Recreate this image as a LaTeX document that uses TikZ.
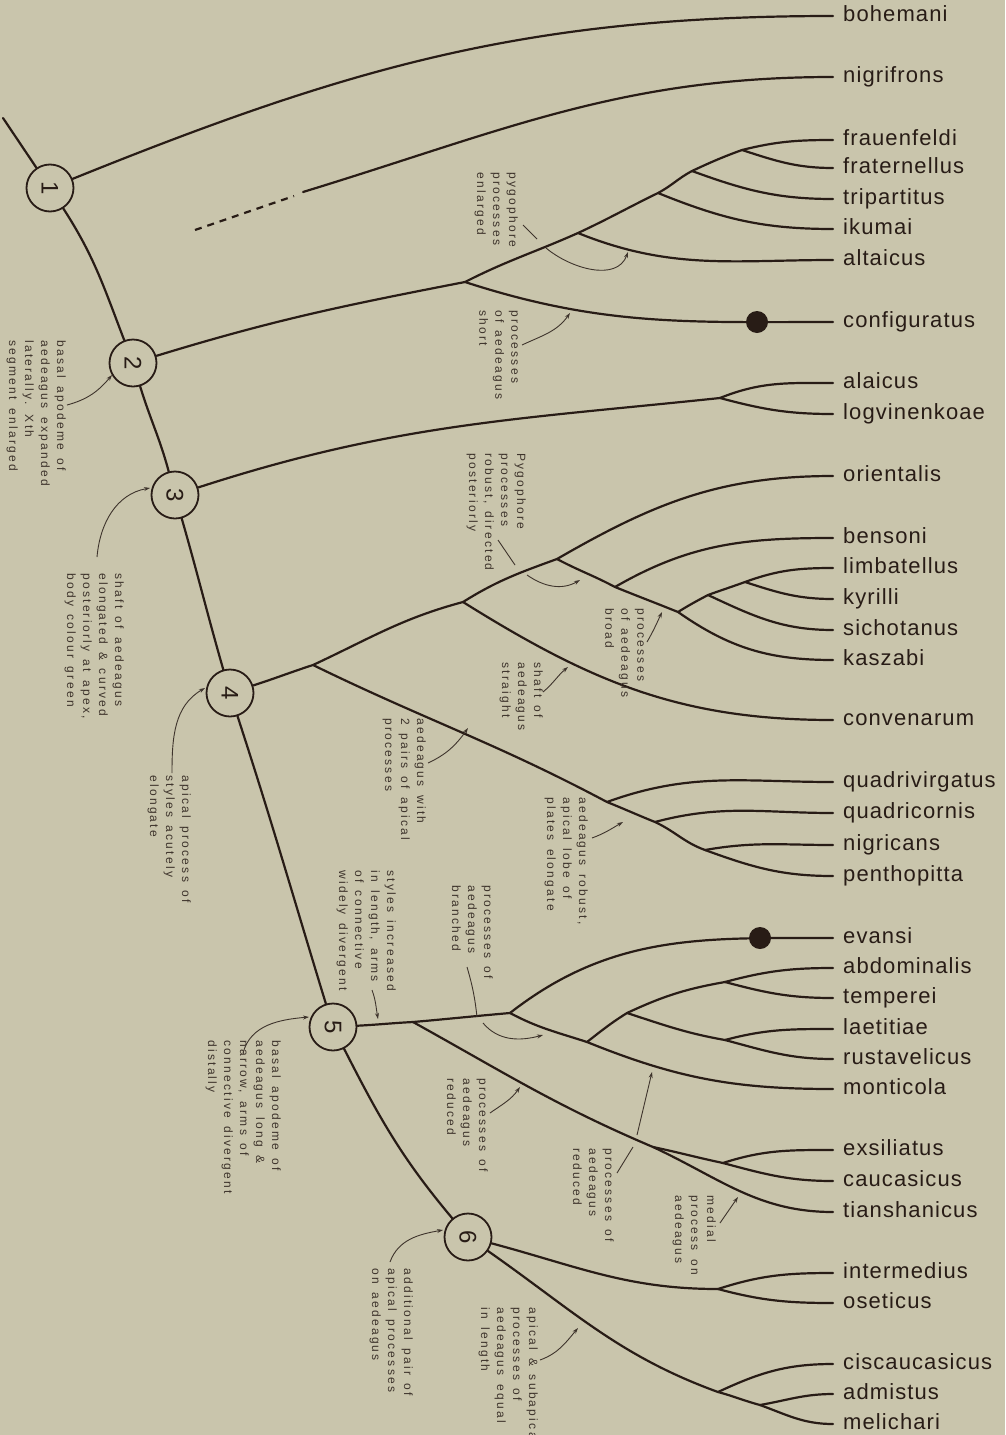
\documentclass[tikz,border=0pt]{standalone}
\usepackage{fontspec}
\usepackage{graphicx}
\setmainfont{Liberation Sans}
\newfontfamily\spfont[LetterSpace=5]{Liberation Sans}
\newfontfamily\anfont[LetterSpace=19,WordSpace=1.5]{Liberation Sans}
\usetikzlibrary{arrows.meta}
\definecolor{bg}{RGB}{201,197,172}
\definecolor{ink}{RGB}{40,28,22}
\definecolor{notec}{RGB}{62,52,44}
\newcommand\leafat[2]{\coordinate (#1) at (833,-#2); \node[splab] (t#1) at (843,-#2-5.5) {#1};}
\begin{document}
\begin{tikzpicture}[x=1pt,y=1pt,
  br/.style={ink, line width=2.2pt, line cap=round},
  cnode/.style={circle, draw=ink, line width=1.8pt, minimum size=47pt, inner sep=0pt, fill=bg, text=ink, font=\fontsize{24}{24}\selectfont},
  splab/.style={anchor=base west, inner sep=0pt, text=ink, font=\spfont\fontsize{22}{22}\selectfont},
  note/.style={rotate=-90, anchor=north west, align=left, inner sep=0pt, text=notec, font=\anfont\fontsize{12}{16}\selectfont},
  arr/.style={notec, line width=0.9pt, -{Stealth[length=6pt,width=4pt]}},
  tick/.style={notec, line width=0.9pt},
  dot/.style={circle, fill=ink, minimum size=22pt, inner sep=0pt},
]
\fill[bg] (0,0) rectangle (1005,-1435);
\useasboundingbox (0,0) rectangle (1005,-1435);

% leaves
\leafat{bohemani}{16}
\leafat{nigrifrons}{77}
\leafat{frauenfeldi}{140}
\leafat{fraternellus}{168}
\leafat{tripartitus}{199}
\leafat{ikumai}{229}
\leafat{altaicus}{260}
\leafat{configuratus}{322}
\leafat{alaicus}{383}
\leafat{logvinenkoae}{414}
\leafat{orientalis}{476}
\leafat{bensoni}{538}
\leafat{limbatellus}{568}
\leafat{kyrilli}{599}
\leafat{sichotanus}{630}
\leafat{kaszabi}{660}
\leafat{convenarum}{720}
\leafat{quadrivirgatus}{782}
\leafat{quadricornis}{813}
\leafat{nigricans}{845}
\leafat{penthopitta}{876}
\leafat{evansi}{938}
\leafat{abdominalis}{968}
\leafat{temperei}{998}
\leafat{laetitiae}{1029}
\leafat{rustavelicus}{1059}
\leafat{monticola}{1089}
\leafat{exsiliatus}{1150}
\leafat{caucasicus}{1181}
\leafat{tianshanicus}{1212}
\leafat{intermedius}{1273}
\leafat{oseticus}{1303}
\leafat{ciscaucasicus}{1364}
\leafat{admistus}{1394}
\leafat{melichari}{1424}

% internal points
\coordinate (root) at (3,-118);
\coordinate (A) at (465,-282);
\coordinate (B) at (578,-233);
\coordinate (C) at (658,-193);
\coordinate (D) at (692,-171);
\coordinate (E) at (742,-150);
\coordinate (F) at (720,-398);
\coordinate (G) at (313,-665);
\coordinate (H) at (463,-602);
\coordinate (I) at (557,-559);
\coordinate (J) at (615,-587);
\coordinate (K) at (678,-612);
\coordinate (L) at (708,-595);
\coordinate (M) at (745,-582);
\coordinate (N) at (607,-802);
\coordinate (P) at (655,-822);
\coordinate (Q) at (705,-850);
\coordinate (R) at (413,-1022);
\coordinate (S) at (510,-1013);
\coordinate (T) at (587,-1042);
\coordinate (U) at (627,-1013);
\coordinate (V) at (725,-982);
\coordinate (W) at (725,-1040);
\coordinate (X) at (653,-1147);
\coordinate (Y) at (723,-1163);
\coordinate (Z1) at (718,-1289);
\coordinate (Z2) at (718,-1392);
\coordinate (Z3) at (760,-1405);
\coordinate (nigstart) at (303,-192);
\coordinate (dashA) at (195,-230);
\coordinate (dashB) at (294,-196);

% circles
\node[cnode] (n1) at (50,-188) {\rotatebox{-90}{1}};
\node[cnode] (n2) at (133,-363) {\rotatebox{-90}{2}};
\node[cnode] (n3) at (175,-495) {\rotatebox{-90}{3}};
\node[cnode] (n4) at (230,-693) {\rotatebox{-90}{4}};
\node[cnode] (n5) at (333,-1027) {\rotatebox{-90}{5}};
\node[cnode] (n6) at (468,-1237) {\rotatebox{-90}{6}};

% backbone
\draw[br] (root) -- (n1);
\draw[br] (n1) to[out=-57,in=111] (n2);
\draw[br] (n2) to[out=-73,in=105] (n3);
\draw[br] (n3) to[out=-74,in=106] (n4);
\draw[br] (n4) to[out=-72,in=107] (n5);
\draw[br] (n5) to[out=-63,in=130] (n6);

% clade 1
\draw[br] (n1) to[out=22,in=180] (bohemani);
\draw[br] (nigstart) to[out=17,in=180] (nigrifrons);
\draw[br, line cap=butt, dash pattern=on 7pt off 6pt] (dashA) -- (dashB);

% clade 2
\draw[br] (n2) to[out=17,in=191] (A);
\draw[br] (A) to[out=27,in=204] (B) to[out=25,in=206] (C) to[out=28,in=208] (D) to[out=25,in=200] (E) to[out=14,in=180] (frauenfeldi);
\draw[br] (E) to[out=-18,in=180] (fraternellus);
\draw[br] (D) to[out=-20,in=180] (tripartitus);
\draw[br] (C) to[out=-22,in=180] (ikumai);
\draw[br] (B) to[out=-22,in=180] (altaicus);
\draw[br] (A) to[out=-18,in=180] (configuratus);
\node[dot] (dotc) at (757,-322) {};

% clade 3
\draw[br] (n3) to[out=18,in=186] (F);
\draw[br] (F) to[out=22,in=180] (alaicus);
\draw[br] (F) to[out=-15,in=180] (logvinenkoae);

% clade 4
\draw[br] (n4) to[out=18,in=198] (G);
\draw[br] (G) to[out=25,in=195] (H);
\draw[br] (H) to[out=32,in=200] (I);
\draw[br] (I) to[out=30,in=180] (orientalis);
\draw[br] (I) to[out=-28,in=152] (J);
\draw[br] (J) to[out=30,in=180] (bensoni);
\draw[br] (J) to[out=-22,in=158] (K);
\draw[br] (K) to[out=32,in=208] (L);
\draw[br] (K) to[out=-35,in=180] (kaszabi);
\draw[br] (L) to[out=20,in=200] (M);
\draw[br] (L) to[out=-25,in=180] (sichotanus);
\draw[br] (M) to[out=20,in=180] (limbatellus);
\draw[br] (M) to[out=-18,in=180] (kyrilli);
\draw[br] (H) to[out=-32,in=180] (convenarum);
\draw[br] (G) to[out=-26,in=152] (N);
\draw[br] (N) to[out=20,in=180] (quadrivirgatus);
\draw[br] (N) to[out=-22,in=158] (P);
\draw[br] (P) to[out=15,in=180] (quadricornis);
\draw[br] (P) to[out=-25,in=160] (Q);
\draw[br] (Q) to[out=10,in=180] (nigricans);
\draw[br] (Q) to[out=-20,in=180] (penthopitta);

% clade 5
\draw[br] (n5) to[out=3,in=183] (R);
\draw[br] (R) to[out=5,in=185] (S);
\draw[br] (S) to[out=38,in=180] (evansi);
\node[dot] (dote) at (760,-938) {};
\draw[br] (S) to[out=-28,in=162] (T);
\draw[br] (T) to[out=38,in=212] (U);
\draw[br] (T) to[out=-22,in=180] (monticola);
\draw[br] (U) to[out=25,in=190] (V);
\draw[br] (U) to[out=-18,in=170] (W);
\draw[br] (V) to[out=15,in=180] (abdominalis);
\draw[br] (V) to[out=-15,in=180] (temperei);
\draw[br] (W) to[out=15,in=180] (laetitiae);
\draw[br] (W) to[out=-15,in=180] (rustavelicus);
\draw[br] (R) to[out=-29,in=157] (X);
\draw[br] (X) to[out=-12,in=168] (Y);
\draw[br] (X) to[out=-25,in=180] (tianshanicus);
\draw[br] (Y) to[out=18,in=180] (exsiliatus);
\draw[br] (Y) to[out=-15,in=180] (caucasicus);

% clade 6
\draw[br] (n6) to[out=-15,in=180] (Z1);
\draw[br] (Z1) to[out=18,in=180] (intermedius);
\draw[br] (Z1) to[out=-15,in=180] (oseticus);
\draw[br] (n6) to[out=-35,in=160] (Z2);
\draw[br] (Z2) to[out=25,in=180] (ciscaucasicus);
\draw[br] (Z2) to[out=-15,in=165] (Z3);
\draw[br] (Z3) to[out=10,in=180] (admistus);
\draw[br] (Z3) to[out=-20,in=180] (melichari);

% annotations
\node[note] (a1) at (66,-340) {basal apodeme of\\aedeagus expanded\\laterally. Xth\\segment enlarged};
\node[note] (a2) at (124,-573) {shaft of aedeagus\\elongated \& curved\\posteriorly at apex,\\body colour green};
\node[note] (a3) at (191,-775) {apical process of\\styles acutely\\elongate};
\node[note] (a4) at (281,-1040) {basal apodeme of\\aedeagus long \&\\narrow, arms of\\connective divergent\\distally};
\node[note] (a5) at (396,-870) {styles increased\\in length, arms\\of connective\\widely divergent};
\node[note] (a6) at (413,-1268) {additional pair of\\apical processes\\on aedeagus};
\node[note] (a7) at (426,-718) {aedeagus with\\2 pairs of apical\\processes};
\node[note] (a8) at (543,-662) {shaft of\\aedeagus\\straight};
\node[note] (a9) at (644,-608) {processes\\of aedeagus\\broad};
\node[note] (a10) at (526,-453) {Pygophore\\processes\\robust, directed\\posteriorly};
\node[note] (a11) at (518,-172) {pygophore\\processes\\enlarged};
\node[note] (a12) at (518,-310) {processes\\of aedeagus\\short};
\node[note] (a13) at (588,-797) {aedeagus robust,\\apical lobe of\\plates elongate};
\node[note] (a14) at (493,-885) {processes of\\aedeagus\\branched};
\node[note] (a15) at (488,-1078) {processes of\\aedeagus\\reduced};
\node[note] (a16) at (614,-1148) {processes of\\aedeagus\\reduced};
\node[note] (a17) at (716,-1195) {medial\\process on\\aedeagus};
\node[note] (a18) at (538,-1307) {apical \& subapical\\processes of\\aedeagus equal\\in length};

% arrows
\coordinate (r1t) at (67,-405); \coordinate (r1h) at (112,-375);
\draw[arr] (r1t) to[out=15,in=230] (r1h);
\coordinate (r2t) at (97,-557); \coordinate (r2h) at (150,-488);
\draw[arr] (r2t) to[out=85,in=190] (r2h);
\coordinate (r3t) at (172,-773); \coordinate (r3h) at (205,-688);
\draw[arr] (r3t) to[out=90,in=210] (r3h);
\coordinate (r4t) at (243,-1053); \coordinate (r4h) at (309,-1017);
\draw[arr] (r4t) to[out=75,in=185] (r4h);
\coordinate (r5t) at (372,-990); \coordinate (r5h) at (378,-1019);
\draw[arr] (r5t) to[out=-70,in=100] (r5h);
\coordinate (r6t) at (390,-1262); \coordinate (r6h) at (443,-1230);
\draw[arr] (r6t) to[out=70,in=190] (r6h);
\coordinate (r7t) at (428,-763); \coordinate (r7h) at (468,-728);
\draw[arr] (r7t) to[out=25,in=235] (r7h);
\coordinate (r8t) at (543,-692); \coordinate (r8h) at (568,-667);
\draw[arr] (r8t) to[out=40,in=220] (r8h);
\coordinate (r9t) at (647,-642); \coordinate (r9h) at (662,-612);
\draw[arr] (r9t) to[out=60,in=245] (r9h);
\coordinate (r10a) at (498,-540); \coordinate (r10b) at (515,-565);
\coordinate (r10t) at (527,-575); \coordinate (r10h) at (580,-580);
\draw[tick] (r10a) -- (r10b);
\draw[arr] (r10t) to[out=-35,in=210] (r10h);
\coordinate (r11a) at (523,-225); \coordinate (r11b) at (537,-239);
\coordinate (r11t) at (546,-248); \coordinate (r11h) at (628,-252);
\draw[tick] (r11a) -- (r11b);
\draw[arr] (r11t) to[out=-40,in=250] (r11h);
\coordinate (r12t) at (522,-345); \coordinate (r12h) at (570,-313);
\draw[arr] (r12t) to[out=25,in=235] (r12h);
\coordinate (r13t) at (592,-838); \coordinate (r13h) at (623,-822);
\draw[arr] (r13t) to[out=20,in=210] (r13h);
\coordinate (r14a) at (467,-967); \coordinate (r14b) at (477,-1017);
\coordinate (r14t) at (483,-1023); \coordinate (r14h) at (543,-1035);
\draw[tick] (r14a) to[bend left=5] (r14b);
\draw[arr] (r14t) to[out=-50,in=195] (r14h);
\coordinate (r15t) at (490,-1113); \coordinate (r15h) at (520,-1087);
\draw[arr] (r15t) to[out=35,in=235] (r15h);
\coordinate (r16a) at (617,-1173); \coordinate (r16b) at (633,-1147);
\coordinate (r16t) at (637,-1135); \coordinate (r16h) at (652,-1072);
\draw[tick] (r16a) -- (r16b);
\draw[arr] (r16t) -- (r16h);
\coordinate (r17t) at (720,-1223); \coordinate (r17h) at (738,-1197);
\draw[arr] (r17t) -- (r17h);
\coordinate (r18t) at (540,-1360); \coordinate (r18h) at (578,-1328);
\draw[arr] (r18t) to[out=20,in=230] (r18h);
\end{tikzpicture}
\end{document}
